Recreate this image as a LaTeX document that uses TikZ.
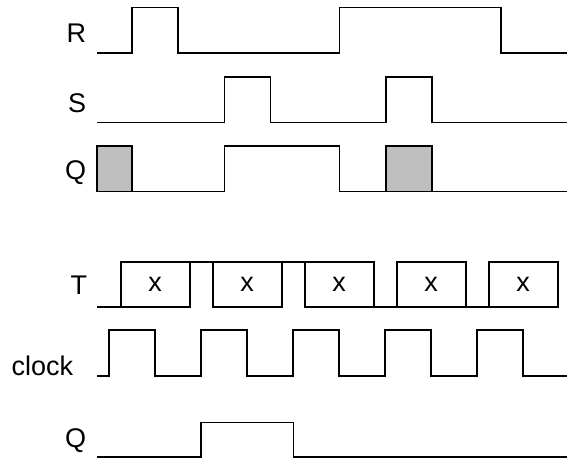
\documentclass[tikz,border=0pt]{standalone}
\usepackage{fontspec}
\setmainfont{Liberation Sans}
\begin{document}
\begin{tikzpicture}[x=1pt, y=-1pt, line width=1.6pt,
  lbl/.style={anchor=base east, inner sep=0pt, font=\fontsize{27}{32}\selectfont},
  dc/.style={inner sep=0pt, font=\fontsize{27}{32}\selectfont}]
  \useasboundingbox (0,0) rectangle (567,459);

  % popisy signalov
  \node[lbl] (labR) at (87,42) {R};
  \node[lbl] (labS) at (87,112) {S};
  \node[lbl] (labQ) at (87,179) {Q};
  \node[lbl] (labT) at (88,294) {T};
  \node[lbl] (labclk) at (74,375) {clock};
  \node[lbl] (labQt) at (87,447) {Q};

  % R
  \draw (97,53) -- (131.7,53) -- (131.7,7.3) -- (177.7,7.3) -- (177.7,53)
    -- (339.3,53) -- (339.3,7.3) -- (501,7.3) -- (501,53) -- (567,53);

  % S
  \draw (97,122.5) -- (224.3,122.5) -- (224.3,76.7) -- (270.6,76.7) -- (270.6,122.5)
    -- (385.7,122.5) -- (385.7,76.7) -- (431.7,76.7) -- (431.7,122.5) -- (567,122.5);

  % Q - neurcite stavy sivo
  \filldraw[fill=gray!50] (97,146) rectangle (131.7,191.5);
  \filldraw[fill=gray!50] (385.7,146) rectangle (431.7,191.5);
  \draw (131.7,191.5) -- (224.3,191.5) -- (224.3,146) -- (339.3,146) -- (339.3,191.5)
    -- (567,191.5);

  % T - lubovolne hodnoty
  \foreach \i in {0,...,4}
  {
    \draw ({120.7+92*\i},261.7) rectangle ++(69,45);
    \node[dc] (x\i) at ({155.2+92*\i},284.2) {x};
  }
  \draw (97,306.7) -- (120.7,306.7);
  \draw (189.7,261.7) -- (212.7,261.7);
  \draw (281.7,261.7) -- (304.7,261.7);
  \draw (373.7,306.7) -- (396.7,306.7);
  \draw (465.7,306.7) -- (488.7,306.7);

  % clock
  \draw (97,376) \foreach \i in {0,...,4} { -- ({109+92*\i},376) -- ++(0,-46) -- ++(46,0) -- ++(0,46) }
    -- (567,376);

  % Q pre T
  \draw (97,456.7) -- (201,456.7) -- (201,422.3) -- (293.3,422.3) -- (293.3,456.7) -- (567,456.7);
\end{tikzpicture}
\end{document}
